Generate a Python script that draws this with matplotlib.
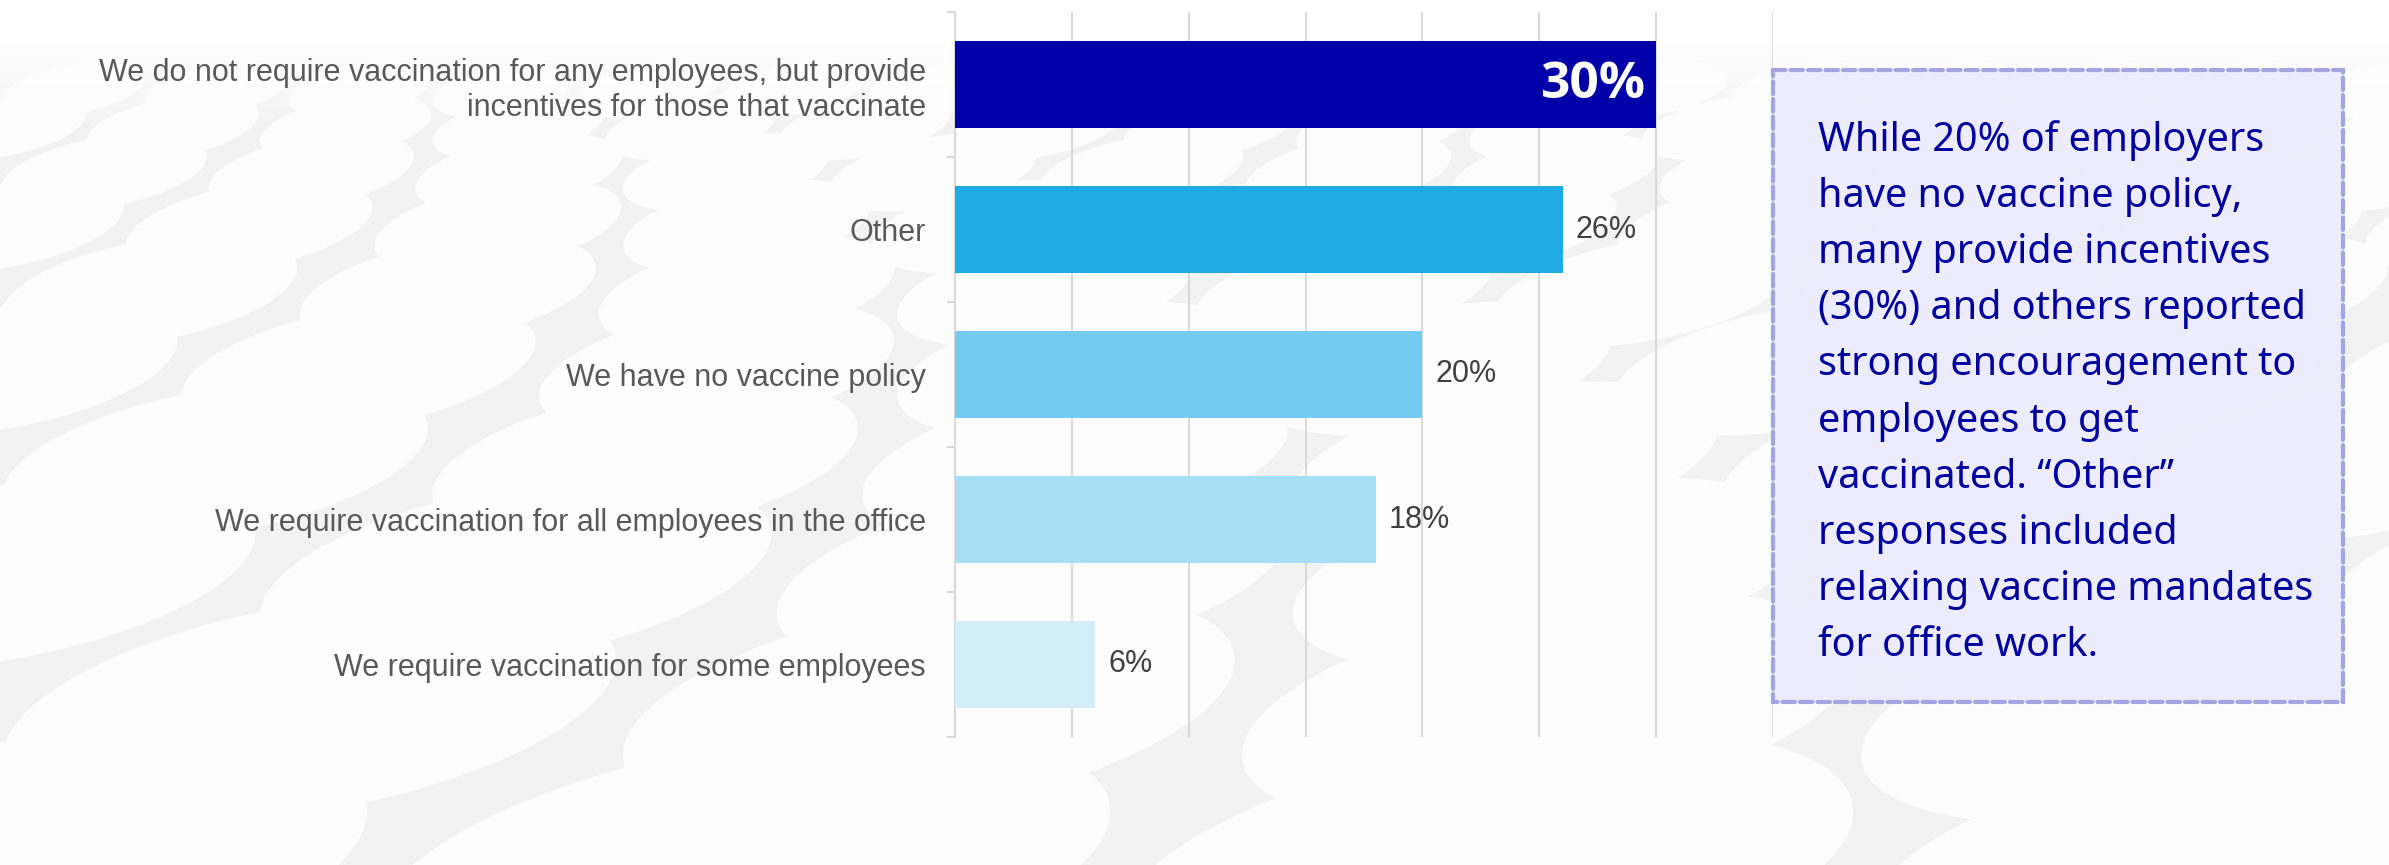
import numpy as np
import matplotlib.pyplot as plt
from matplotlib.patches import Ellipse, Rectangle

categories = [
    "We do not require vaccination for any employees, but provide\nincentives for those that vaccinate",
    "Other",
    "We have no vaccine policy",
    "We require vaccination for all employees in the office",
    "We require vaccination for some employees",
]
values = [30, 26, 20, 18, 6]
bar_colors = ["#0000a8", "#1eaae2", "#74cdf0", "#a6def4", "#d3eef9"]
note = ("While 20% of employers\nhave no vaccine policy,\nmany provide incentives\n"
        "(30%) and others reported\nstrong encouragement to\nemployees to get\n"
        "vaccinated. \u201cOther\u201d\nresponses included\nrelaxing vaccine mandates\n"
        "for office work.")

W, H = 2389, 865
fig = plt.figure(figsize=(W / 100, H / 100), dpi=100)

# soft ellipse backdrop
bg = fig.add_axes([0, 0, 1, 1], zorder=0)
bg.set_xlim(0, W)
bg.set_ylim(H, 0)
bg.axis("off")
bg.add_patch(Rectangle((0, 0), W, H, color="#f2f2f2", zorder=0))
y, h, row = 90.0, 48.0, 0
while y < H + 300:
    w = h * 3.0
    x = -w / 2 + (row % 2) * w * 0.5
    while x < W + w:
        bg.add_patch(Ellipse((x, y), w, h, angle=-10, color="#fdfdfd", zorder=1))
        x += w * 1.0
    y += h * 0.78
    h *= 1.2
    row += 1
fade = np.zeros((H, 1, 4))
fade[..., :3] = 1.0
fade[:, 0, 3] = np.clip(1.0 - (np.arange(H) - 40) / 90.0, 0, 1)
bg.imshow(fade, extent=(0, W, H, 0), aspect="auto", zorder=2)

# bar chart
ax = fig.add_axes([955 / W, 1 - 737 / H, (1773 - 955) / W, (737 - 12) / H], zorder=1)
ax.patch.set_alpha(0)
ypos = np.arange(len(categories))
ax.barh(ypos, values, height=0.6, color=bar_colors, zorder=3)
ax.set_xlim(0, 35)
ax.set_ylim(len(categories) - 0.5, -0.5)
ax.set_xticks(np.arange(0, 36, 5))
ax.set_xticklabels([])
ax.tick_params(axis="x", length=0)
ax.grid(axis="x", color="#d9d9d9", linewidth=1.5, zorder=1)
for s in ["top", "right", "bottom"]:
    ax.spines[s].set_visible(False)
ax.spines["left"].set_color("#d9d9d9")
ax.spines["left"].set_linewidth(1.5)
ax.set_yticks(ypos)
ax.set_yticklabels(categories, fontsize=22, color="#595959",
                   family=["Liberation Sans", "DejaVu Sans"], linespacing=1.2)
ax.tick_params(axis="y", length=0, pad=21)
ax.set_yticks(np.arange(-0.5, len(categories)), minor=True)
ax.tick_params(axis="y", which="minor", length=6, width=1.5, color="#d9d9d9")

for i, v in enumerate(values):
    if i == 0:
        ax.text(v - 0.45, i, f"{v}%", ha="right", va="center", color="white",
                fontsize=37, fontweight="bold", family="Open Sans", zorder=4)
    else:
        ax.text(v + 0.55, i, f"{v}%", ha="left", va="center", color="#404040",
                fontsize=22, family="Liberation Sans", zorder=4)

# summary box
ov = fig.add_axes([0, 0, 1, 1], zorder=2)
ov.set_xlim(0, W)
ov.set_ylim(H, 0)
ov.axis("off")
ov.add_patch(Rectangle((1773, 70), 2343 - 1773, 702 - 70, facecolor="#ebebfc",
                       alpha=0.9, edgecolor="none"))
ov.add_patch(Rectangle((1773, 70), 2343 - 1773, 702 - 70, facecolor="none",
                       edgecolor="#a4a4e0", linewidth=3, linestyle=(0, (3, 1.2)),
                       capstyle="round"))
ov.text(1818, 393, note, ha="left", va="center", color="#0000a0", fontsize=28.5,
        family="Noto Sans", linespacing=1.54)

fig.savefig("out.png", dpi=100)
